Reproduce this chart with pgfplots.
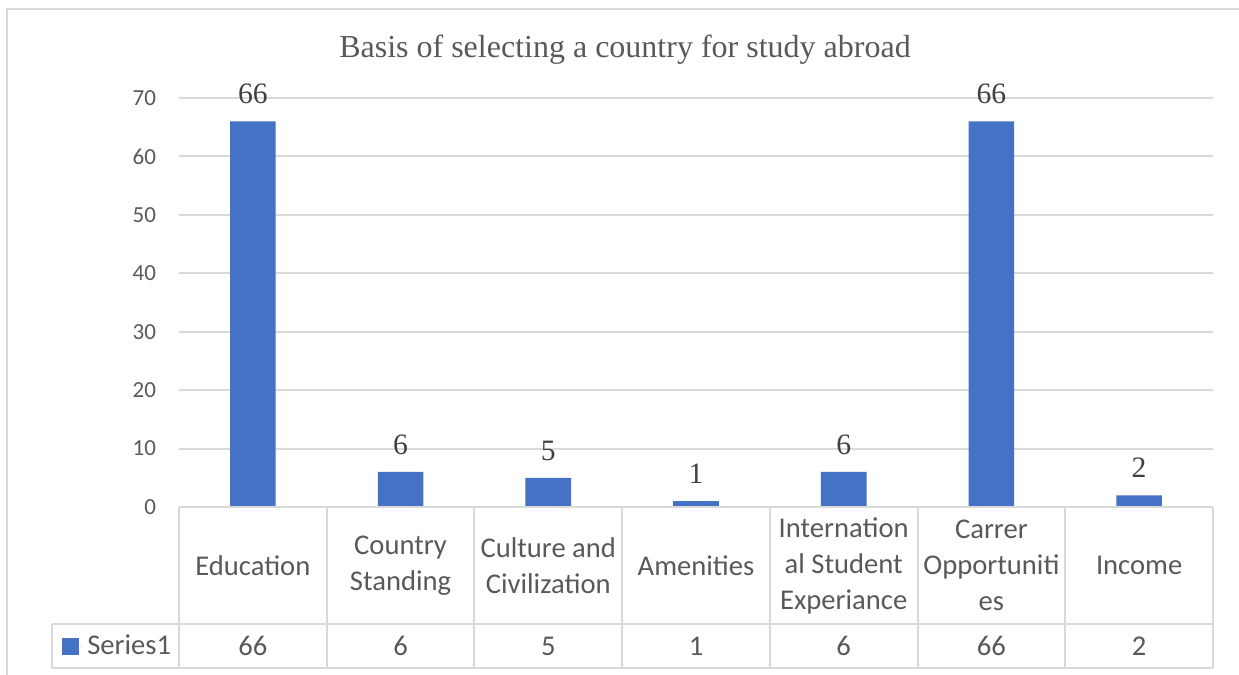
\documentclass[border=0pt]{standalone}
\usepackage{pgfplots}
\pgfplotsset{compat=1.18}
\usepackage{pgfplotstable}
\usepackage{fontspec}
\setmainfont{Liberation Serif}
\newfontfamily\calibri{Carlito}
\definecolor{barblue}{HTML}{4472C4}
\definecolor{gridgray}{HTML}{D9D9D9}
\definecolor{txtgray}{HTML}{595959}
\definecolor{lblgray}{HTML}{404040}

\pgfplotstableread{
x value
0 66
1 6
2 5
3 1
4 6
5 66
6 2
}\basisdata

\begin{document}
\begin{tikzpicture}[x=0.5pt,y=0.5pt]
\path[use as bounding box] (0,0) rectangle (1239,675);
% chart frame
\draw[gridgray, line width=1pt] (7,-20) -- (7,666) -- (1260,666);
\node[font=\fontsize{16}{19}\selectfont, text=txtgray, anchor=base] at (625,617)
  {Basis of selecting a country for study abroad};
\begin{axis}[
    at={(89.5pt,84pt)}, anchor=south west,
    scale only axis, width=517pt, height=204.5pt,
    xmin=-0.5, xmax=6.5, ymin=0, ymax=70,
    ytick={0,10,...,70},
    xtick={0,...,6},
    xticklabels={Education, Country\\Standing, Culture and\\Civilization, Amenities,
      Internation\\al Student\\Experiance, Carrer\\Opportuniti\\es, Income},
    extra x ticks={0,...,6},
    extra x tick labels={66,6,5,1,6,66,2},
    extra x tick style={xticklabel style={yshift=-40.25pt}},
    xticklabel style={font=\calibri\fontsize{14.3}{18}\selectfont, text=txtgray,
      text width=72pt, align=flush center, anchor=center, yshift=-29.25pt},
    yticklabel style={font=\calibri\fontsize{11.5}{13}\selectfont, text=txtgray,
      anchor=east, xshift=-8pt},
    ymajorgrids, grid style={gridgray, line width=1pt},
    axis line style={draw=none}, major tick length=0pt,
    /pgf/number format/assume math mode=true,
    clip=false,
    legend style={at={(-0.1132,-0.3399)}, anchor=west, draw=none, fill=none,
      inner sep=0pt, font=\calibri\fontsize{14.3}{18}\selectfont, text=txtgray},
    legend image code/.code={\fill[barblue] (0pt,-4.25pt) rectangle (8.5pt,4.25pt);
      \path (0pt,0pt) -- (10.5pt,0pt);},
]
\addplot[ybar, bar width=22.8pt, fill=barblue, draw=none,
    nodes near coords,
    nodes near coords style={font=\fontsize{14.8}{16}\selectfont, text=lblgray,
      anchor=south, inner sep=0pt, yshift=8.5pt}]
    table[x=x, y=value]{\basisdata};
\legend{Series1}
\end{axis}
% data table grid
\draw[gridgray, line width=1pt] (179,168) -- (1213,168);
\foreach \i in {0,...,7} \draw[gridgray, line width=1pt] ({179+\i*147.714},7) -- ({179+\i*147.714},168);
\draw[gridgray, line width=1pt] (52,51) -- (1213,51);
\draw[gridgray, line width=1pt] (52,7) -- (1213,7);
\draw[gridgray, line width=1pt] (52,7) -- (52,51);
\end{tikzpicture}
\end{document}
